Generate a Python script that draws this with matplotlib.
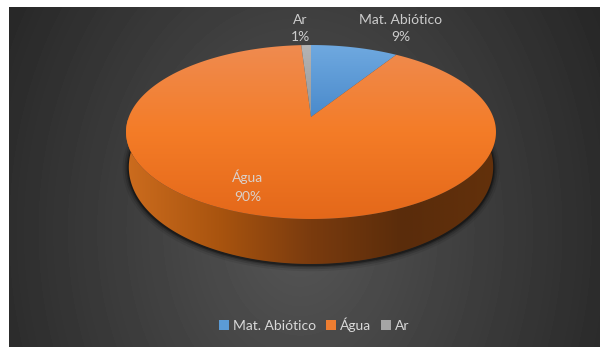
import matplotlib
matplotlib.use("Agg")
import matplotlib.pyplot as plt
import numpy as np
from matplotlib.colors import LinearSegmentedColormap
from matplotlib.patches import Patch, Polygon

plt.rcParams['font.family'] = ['Lato', 'DejaVu Sans']

categories = ['Mat. Abiótico', 'Água', 'Ar']
values = [9, 90, 1]
percent_labels = ['9%', '90%', '1%']
legend_colors = ['#5B9BD5', '#ED7D31', '#A5A5A5']
top_shades = [['#6FA9E0', '#4A8ACB'],
              ['#EF8B50', '#F47C27', '#E4681A'],
              ['#B4B4B4', '#989898']]
side_shades = ['#CC6C1E', '#A9540F', '#7A3B0E', '#5A2C0B', '#63310B']
# x, y of category line, y of percent line
label_pos = [(401, 20, 37), (248, 177, 197), (300, 20, 37)]

# pie geometry in pixels, with a perspective factor so the centre sits behind the middle
CX, CY = 311, 117
A, B, K = 182.2, 84.4, 0.1724
DEPTH_EDGE, DEPTH_FRONT = 33, 45


def project(frac):
    # frac runs clockwise from 12 o'clock, 0..1 is a full turn
    ang = 2 * np.pi * np.asarray(frac)
    u, v = np.sin(ang), np.cos(ang)
    w = 1 + K * v
    return CX + A * u / w, CY - B * v / w, v


def bottom_edge(frac):
    x, y, v = project(frac)
    return CX + (x - CX) * 0.985, y + DEPTH_EDGE + (DEPTH_FRONT - DEPTH_EDGE) * np.maximum(-v, 0)


def gradient(ax, colors, extent, horizontal, clip, zorder):
    cmap = LinearSegmentedColormap.from_list('g', colors)
    ramp = np.linspace(0, 1, 256)
    ramp = ramp[None, :] if horizontal else ramp[:, None]
    im = ax.imshow(ramp, cmap=cmap, extent=extent, aspect='auto', zorder=zorder, interpolation='bilinear')
    im.set_clip_path(clip)


fig = plt.figure(figsize=(6, 3.47), dpi=100, facecolor='white')
ax = fig.add_axes([0, 0, 1, 1])
ax.axis('off')

# dark radial background
yy, xx = np.mgrid[7:347, 9:600]
dist = np.sqrt(((xx - 300) / 300.0) ** 2 + ((yy - 230) / 400.0) ** 2)
bg = np.clip(0.335 - 0.16 * dist, 0.15, 1)
ax.imshow(bg, cmap='gray', vmin=0, vmax=1, extent=(9, 600, 347, 7), aspect='auto', zorder=0)

# shadow under the disc
t = np.linspace(0.2, 0.8, 200)
bx, by = bottom_edge(t)
for lw, alpha in [(9, 0.08), (6, 0.14), (3.5, 0.2), (1.8, 0.35)]:
    ax.plot(bx, by + 1, color='black', lw=lw, alpha=alpha, zorder=1, solid_capstyle='round')

# side wall, front half only
t_side = np.linspace(0.25, 0.75, 300)
sx, sy, _ = project(t_side)
bx, by = bottom_edge(t_side)
wall = Polygon(np.column_stack([np.r_[sx, bx[::-1]], np.r_[sy, by[::-1]]]), closed=True,
               facecolor='none', edgecolor='none', transform=ax.transData)
ax.add_patch(wall)
gradient(ax, side_shades, (126, 496, 270, 120), True, wall, 2)

# top face, one polygon per slice
start = 0.0
total = sum(values)
for i, val in enumerate(values):
    frac = np.linspace(start, start + val / total, max(int(val * 6), 8))
    x, y, _ = project(frac)
    poly = Polygon(np.column_stack([np.r_[CX, x], np.r_[CY, y]]), closed=True,
                   facecolor='none', edgecolor='none', transform=ax.transData)
    ax.add_patch(poly)
    # slices at the back only span part of the height of the disc
    bottom = 219 if len(top_shades[i]) == 3 else CY
    gradient(ax, top_shades[i], (120, 500, bottom, 45), False, poly, 3)
    start += val / total

# labels, category above percent
for name, pct, (lx, y1, y2) in zip(categories, percent_labels, label_pos):
    ax.text(lx, y1, name, color='#D9D9D9', alpha=0.92, fontsize=10, ha='center', va='center', zorder=5)
    ax.text(lx, y2, pct, color='#D9D9D9', alpha=0.92, fontsize=10, ha='center', va='center', zorder=5)

handles = [Patch(facecolor=c, edgecolor='none', label=n) for c, n in zip(legend_colors, categories)]
ax.legend(handles=handles, loc='center', bbox_to_anchor=(314, 325), bbox_transform=ax.transData,
          ncol=3, frameon=False, fontsize=10, labelcolor='#D9D9D9', handlelength=0.72, handleheight=0.72,
          handletextpad=0.3, columnspacing=0.7, borderpad=0, borderaxespad=0)

ax.set_xlim(0, 600)
ax.set_ylim(347, 0)
fig.savefig('out.png', dpi=100, facecolor='white')
